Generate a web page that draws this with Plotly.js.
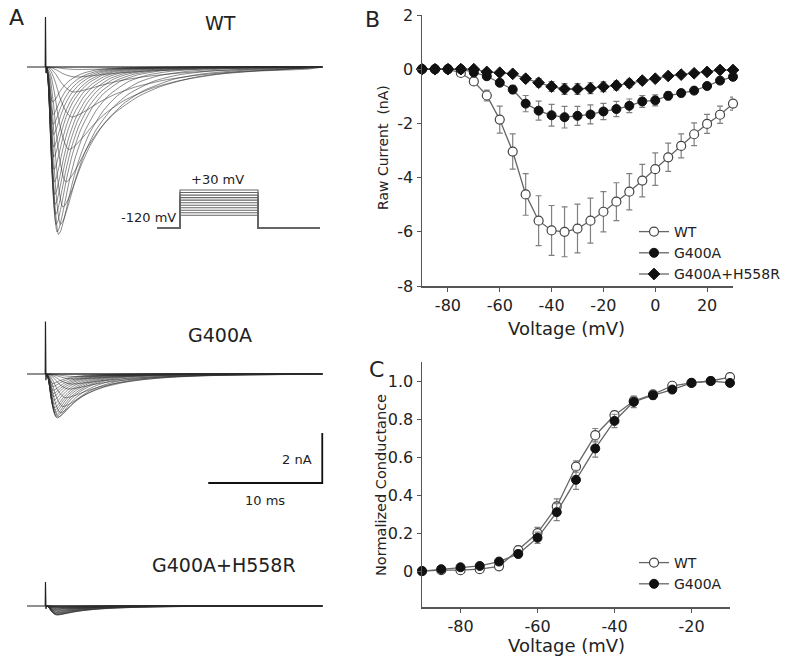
<!DOCTYPE html>
<html><head><meta charset="utf-8">
<script src="https://cdn.plot.ly/plotly-3.0.1.min.js"></script>
<style>html,body{margin:0;padding:0;background:#fff}#chart{width:792px;height:662px}</style>
</head><body><div id="chart"></div>
<script>
// ---------- Panel B: raw current-voltage relationship ----------
const voltsB = [-90,-85,-80,-75,-70,-65,-60,-55,-50,-45,-40,-35,-30,-25,-20,-15,-10,-5,0,5,10,15,20,25,30];
const wtCurrent = [0,0,0,-0.14,-0.45,-0.97,-1.86,-3.04,-4.62,-5.59,-5.95,-6.0,-5.88,-5.59,-5.26,-4.89,-4.52,-4.11,-3.69,-3.25,-2.83,-2.40,-2.02,-1.68,-1.27];
const wtCurrentErr = [0,0,0,0.05,0.12,0.2,0.5,0.65,0.77,0.92,0.92,0.92,0.9,0.83,0.74,0.7,0.67,0.6,0.6,0.52,0.44,0.42,0.35,0.32,0.24];
const g400aCurrent = [0,0,0,0,-0.12,-0.26,-0.5,-0.75,-1.27,-1.53,-1.70,-1.77,-1.72,-1.67,-1.56,-1.47,-1.35,-1.19,-1.15,-0.98,-0.88,-0.79,-0.62,-0.42,-0.28];
const g400aCurrentErr = [0,0,0,0,0.03,0.06,0.1,0.15,0.3,0.35,0.4,0.4,0.35,0.35,0.3,0.28,0.25,0.22,0.2,0.15,0.13,0.1,0.08,0.06,0.05];
const dblCurrent = [0,0,0,0,0,-0.1,-0.13,-0.17,-0.35,-0.5,-0.64,-0.73,-0.73,-0.7,-0.65,-0.6,-0.52,-0.42,-0.35,-0.25,-0.2,-0.15,-0.1,-0.03,-0.03];
const dblCurrentErr = [0,0,0,0,0,0.03,0.05,0.07,0.12,0.15,0.18,0.2,0.2,0.2,0.18,0.16,0.15,0.12,0.1,0.08,0.07,0.06,0.05,0.04,0.03];
const ticksB_x = [-80,-60,-40,-20,0,20];
const ticksB_xText = ['-80','-60','-40','-20','0','20'];
const ticksB_y = [2,0,-2,-4,-6,-8];
const ticksB_yText = ['2','0','-2','-4','-6','-8'];

// ---------- Panel C: normalized conductance ----------
const voltsC = [-90,-85,-80,-75,-70,-65,-60,-55,-50,-45,-40,-35,-30,-25,-20,-15,-10];
const wtG = [0,0.005,0.005,0.01,0.025,0.11,0.2,0.34,0.55,0.715,0.82,0.895,0.93,0.975,0.99,1.0,1.02];
const wtGErr = [0,0.005,0.005,0.01,0.01,0.02,0.03,0.04,0.03,0.035,0.02,0.02,0.015,0.01,0.01,0.01,0.01];
const g400aG = [0,0.01,0.02,0.027,0.05,0.09,0.175,0.31,0.48,0.645,0.79,0.89,0.925,0.955,0.99,1.0,0.99];
const g400aGErr = [0,0.005,0.005,0.01,0.01,0.02,0.03,0.045,0.05,0.045,0.035,0.03,0.02,0.015,0.01,0.01,0.01];
const ticksC_x = [-80,-60,-40,-20];
const ticksC_xText = ['-80','-60','-40','-20'];
const ticksC_y = [0,0.2,0.4,0.6,0.8,1.0];
const ticksC_yText = ['0','0.2','0.4','0.6','0.8','1.0'];

// ---------- Panel A: current traces ----------
// normalized current time course (ms after step onset) read off the largest WT sweep
const shapeTime = [0,0.15,0.3,0.45,0.6,0.75,0.85,1.0,1.2,1.4,1.8,2.3,3.0,4.0,5.0,6.5,8.0,10.0,13.0,17.0,24.0];
const shapeCurrent = [0,-0.08,-0.3,-0.6,-0.82,-0.96,-1.0,-0.98,-0.92,-0.85,-0.7,-0.55,-0.4,-0.26,-0.17,-0.09,-0.05,-0.025,-0.01,-0.004,0];
// peak amplitudes (nA) per sweep, steps -90..+30 mV
const wtSweepPeak = [0,0,0,0.1,0.4,1.0,2.0,3.3,4.6,5.6,6.3,6.7,6.6,6.3,5.9,5.5,5.1,4.6,4.1,3.6,3.2,2.7,2.3,1.9,1.4];
const g400aSweepPeak = [0,0,0,0,0.1,0.2,0.4,0.6,0.95,1.3,1.55,1.72,1.76,1.72,1.65,1.55,1.45,1.35,1.2,1.05,0.9,0.78,0.65,0.5,0.38];
const dblSweepPeak = [0,0,0,0,0,0.05,0.08,0.12,0.2,0.27,0.32,0.35,0.36,0.35,0.33,0.3,0.28,0.25,0.21,0.18,0.15,0.12,0.09,0.06,0.05];
// kinetic slowing factor per sweep (slower at less depolarized steps)
const sweepKinetics = [3.4,3.4,3.4,3.2,3.0,2.8,2.6,2.3,2.0,1.7,1.45,1.25,1.1,1.0,0.95,0.9,0.86,0.82,0.79,0.76,0.74,0.72,0.7,0.68,0.66];
const artifactHeight = [2.0, 2.1, 0.96];  // nA, WT / G400A / G400A+H558R
const sweepLabels = ['WT','G400A','G400A+H558R'];
const sweepDuration = 25.9; // ms
const stepOnset = 1.6;      // ms
const scaleBarNA = 2, scaleBarMS = 10;

// voltage protocol inset
const protoLevels = [-70,-60,-50,-40,-30,-20,-10,0,10,20,30];
const protoHolding = -120;
const protoTime = [0,1,4.4,7.1];

// ---------- layout helpers (pixel -> paper) ----------
const W = 792, H = 662;
const px = v => v / W, py = v => 1 - v / H;
const font = 'DejaVu Sans, Arial, sans-serif';
const txt = '#222';

const traces = [];

// Panel A traces
const baselines = [-67/25, -374/25, -606/25]; // nA offsets (vertical placement)
[wtSweepPeak, g400aSweepPeak, dblSweepPeak].forEach((peaks, p) => {
  const base = baselines[p];
  const xs = [], ys = [];
  const ax = [0, stepOnset, stepOnset+0.02, stepOnset+0.06, stepOnset+0.12];
  const ay = [base, base, base + artifactHeight[p], base - artifactHeight[p]*0.12, base];
  peaks.forEach((amp, i) => {
    const k = sweepKinetics[i];
    xs.push(stepOnset + 0.1);
    ys.push(base);
    shapeTime.forEach((t, j) => {
      const tt = stepOnset + 0.1 + t * k;
      if (tt < sweepDuration) { xs.push(tt); ys.push(base + amp * shapeCurrent[j]); }
    });
    xs.push(sweepDuration); ys.push(base);
    xs.push(null); ys.push(null);
  });
  traces.push({x: xs, y: ys, xaxis: 'x3', yaxis: 'y3', mode: 'lines', showlegend: false,
    line: {color: 'rgba(45,45,45,0.7)', width: 0.8, shape: 'spline', smoothing: 0.6}, hoverinfo: 'skip', connectgaps: false});
  traces.push({x: ax, y: ay, xaxis: 'x3', yaxis: 'y3', mode: 'lines', showlegend: false,
    line: {color: '#222', width: 1.2}, hoverinfo: 'skip'});
});
// scale bar
const sbY = -483/25;
traces.push({x: [sweepDuration - scaleBarMS, sweepDuration, sweepDuration], y: [sbY, sbY, sbY + scaleBarNA],
  xaxis: 'x3', yaxis: 'y3', mode: 'lines', showlegend: false, line: {color: '#111', width: 1.8}, hoverinfo: 'skip'});
// protocol
protoLevels.forEach(v => {
  traces.push({x: [protoTime[0], protoTime[1], protoTime[1], protoTime[2], protoTime[2], protoTime[3]],
    y: [protoHolding, protoHolding, v, v, protoHolding, protoHolding],
    xaxis: 'x4', yaxis: 'y4', mode: 'lines', showlegend: false, line: {color: '#666', width: 1.1}, hoverinfo: 'skip'});
});

// Panels B and C
const lineCol = '#666', errCol = '#808080';
function series(x, y, err, name, marker, xa, ya, leg) {
  return {x, y, name, xaxis: xa, yaxis: ya, legend: leg, mode: 'lines+markers', cliponaxis: false,
    line: {color: lineCol, width: 1.3}, marker,
    error_y: {type: 'data', array: err, visible: true, color: errCol, thickness: 1.2, width: 3}};
}
const openM = {symbol: 'circle', size: 9, color: '#fff', line: {color: '#444', width: 1.2}};
const fillM = {symbol: 'circle', size: 9, color: '#111', line: {color: '#111', width: 1}};
const diaM = {symbol: 'diamond', size: 9, color: '#111', line: {color: '#111', width: 1}};
traces.push(series(voltsB, wtCurrent, wtCurrentErr, 'WT', openM, 'x', 'y', 'legend'));
traces.push(series(voltsB, g400aCurrent, g400aCurrentErr, 'G400A', fillM, 'x', 'y', 'legend'));
traces.push(series(voltsB, dblCurrent, dblCurrentErr, 'G400A+H558R', diaM, 'x', 'y', 'legend'));
traces.push(series(voltsC, wtG, wtGErr, 'WT', openM, 'x2', 'y2', 'legend2'));
traces.push(series(voltsC, g400aG, g400aGErr, 'G400A', fillM, 'x2', 'y2', 'legend2'));

const axBase = {showline: true, linecolor: '#555', linewidth: 1.5, ticks: 'outside', ticklen: 4, tickcolor: '#555',
  showgrid: false, zeroline: false, automargin: false, tickfont: {family: font, size: 16, color: txt}, fixedrange: true};

function ann(text, x, y, size, extra) {
  return Object.assign({text, x: px(x), y: py(y), xref: 'paper', yref: 'paper', xanchor: 'center', yanchor: 'middle',
    showarrow: false, font: {family: font, size, color: txt}}, extra || {});
}

const layout = {
  width: W, height: H, margin: {l: 0, r: 0, t: 0, b: 0}, paper_bgcolor: '#fff', plot_bgcolor: 'rgba(0,0,0,0)',
  font: {family: font, color: txt},
  xaxis: Object.assign({}, axBase, {domain: [px(422), px(733)], range: [-90, 30], tickvals: ticksB_x, ticktext: ticksB_xText, anchor: 'y'}),
  yaxis: Object.assign({}, axBase, {domain: [py(286), py(15)], range: [-8, 2], tickvals: ticksB_y, ticktext: ticksB_yText, anchor: 'x'}),
  xaxis2: Object.assign({}, axBase, {domain: [px(422), px(730)], range: [-90, -10], tickvals: ticksC_x, ticktext: ticksC_xText, anchor: 'y2'}),
  yaxis2: Object.assign({}, axBase, {domain: [py(607), py(362)], range: [-0.189, 1.1], tickvals: ticksC_y, ticktext: ticksC_yText, anchor: 'x2'}),
  xaxis3: {domain: [0, px(340)], range: [-27/11.4, 313/11.4], visible: false, anchor: 'y3', fixedrange: true},
  yaxis3: {domain: [0, 1], range: [-H/25, 0], visible: false, anchor: 'x3', fixedrange: true},
  xaxis4: {domain: [px(157), px(320)], range: [0, 7.1], visible: false, anchor: 'y4', fixedrange: true},
  yaxis4: {domain: [py(230.5), py(187.5)], range: [-130, 40], visible: false, anchor: 'x4', fixedrange: true},
  legend: {x: px(634), y: py(216), xanchor: 'left', yanchor: 'top', bgcolor: 'rgba(0,0,0,0)', font: {family: font, size: 14, color: txt}, tracegroupgap: 0},
  legend2: {x: px(634), y: py(547), xanchor: 'left', yanchor: 'top', bgcolor: 'rgba(0,0,0,0)', font: {family: font, size: 14, color: txt}, tracegroupgap: 0},
  annotations: [
    ann('A', 16, 18, 22),
    ann('B', 372, 19, 22),
    ann('C', 376, 369, 22),
    ann(sweepLabels[0], 220, 23, 19),
    ann(sweepLabels[1], 220, 335, 19),
    ann(sweepLabels[2], 224, 565, 19),
    ann('+30 mV', 217, 180, 13),
    ann('-120 mV', 178, 217, 13, {xanchor: 'right'}),
    ann(scaleBarNA + ' nA', 314, 459, 13, {xanchor: 'right'}),
    ann(scaleBarMS + ' ms', 265, 500, 13),
    ann('Raw Current  (nA)', 383, 148, 14, {textangle: -90}),
    ann('Normalized Conductance', 381, 485, 14.5, {textangle: -90}),
    ann('Voltage (mV)', 566, 328, 18),
    ann('Voltage (mV)', 566, 645, 18)
  ]
};
Plotly.newPlot('chart', traces, layout, {displayModeBar: false, staticPlot: true});
</script></body></html>
